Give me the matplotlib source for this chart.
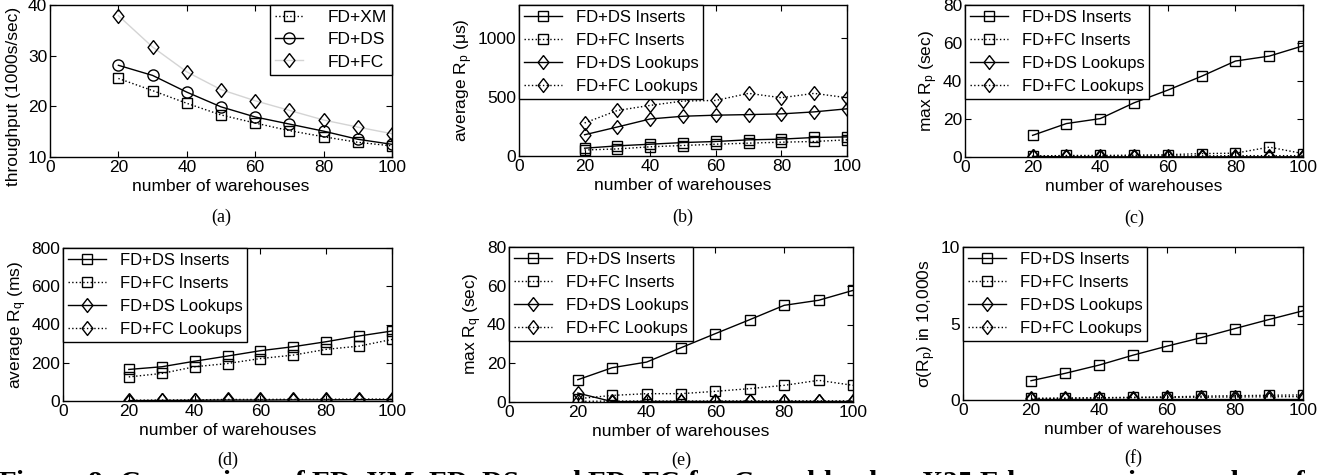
import matplotlib
matplotlib.use("Agg")
import matplotlib.pyplot as plt

plt.rcParams['font.family'] = ['Liberation Sans', 'DejaVu Sans']
plt.rcParams['mathtext.fontset'] = 'custom'
plt.rcParams['mathtext.rm'] = 'Liberation Sans'
plt.rcParams['mathtext.it'] = 'Liberation Sans:italic'
plt.rcParams['mathtext.cal'] = 'Liberation Serif:italic:bold'

# number of warehouses
x = [20, 30, 40, 50, 60, 70, 80, 90, 100]

# (a) throughput (1000s/sec)
tp_xm = [25.5, 23.1, 20.6, 18.3, 16.7, 15.2, 14.0, 12.9, 12.2]
tp_ds = [28.1, 26.1, 22.8, 19.9, 17.9, 16.5, 15.1, 13.5, 12.5]
tp_fc = [37.9, 31.7, 26.8, 23.3, 21.1, 19.2, 17.3, 15.9, 14.6]

# (b) average Rp (us)
avg_rp_ds_ins = [66, 86, 100, 114, 123, 137, 143, 157, 162]
avg_rp_fc_ins = [51, 60, 78, 89, 100, 109, 117, 123, 137]
avg_rp_ds_look = [180, 246, 314, 337, 346, 351, 357, 374, 400]
avg_rp_fc_look = [280, 386, 429, 466, 471, 531, 494, 531, 494]

# (c) max Rp (sec)
max_rp_ds_ins = [11.4, 17.6, 20.2, 28.5, 35.2, 42.5, 50.5, 53.1, 58.5]
max_rp_fc_ins = [0.5, 0.8, 0.8, 1.0, 1.2, 1.8, 2.0, 5.2, 1.8]
max_rp_ds_look = [0.3, 0.1, 0.1, 0.1, 0.1, 0.1, 0.1, 0.1, 0.1]
max_rp_fc_look = [0.4, 0.5, 0.5, 0.6, 0.6, 0.6, 0.7, 0.7, 0.7]

# (d) average Rq (ms)
avg_rq_ds_ins = [165, 179, 208, 235, 263, 284, 310, 340, 366]
avg_rq_fc_ins = [126, 144, 179, 196, 222, 240, 270, 287, 322]
avg_rq_ds_look = [2, 3, 4, 5, 5, 6, 6, 7, 7]
avg_rq_fc_look = [4, 5, 6, 8, 8, 9, 9, 10, 10]

# (e) max Rq (sec)
max_rq_ds_ins = [11.5, 17.7, 20.6, 28.0, 35.3, 42.5, 49.9, 52.5, 57.6]
max_rq_fc_ins = [1.7, 3.4, 4.3, 4.3, 5.5, 6.9, 8.6, 11.2, 8.6]
max_rq_ds_look = [4.6, 0.2, 0.3, 0.3, 0.3, 0.3, 0.3, 0.3, 0.3]
max_rq_fc_look = [0.3, 0.5, 0.5, 0.5, 0.5, 0.6, 0.6, 0.6, 0.6]

# (f) sigma(Rp) in 10,000s
sd_rp_ds_ins = [1.26, 1.74, 2.28, 2.93, 3.52, 4.07, 4.67, 5.26, 5.83]
sd_rp_fc_ins = [0.10, 0.12, 0.15, 0.18, 0.20, 0.25, 0.28, 0.31, 0.33]
sd_rp_ds_look = [0.05, 0.05, 0.05, 0.05, 0.05, 0.05, 0.05, 0.05, 0.05]
sd_rp_fc_look = [0.10, 0.12, 0.13, 0.15, 0.17, 0.18, 0.20, 0.21, 0.22]

W, H = 1337, 475
DIAMOND = [(0, 1), (0.78, 0), (0, -1), (-0.78, 0), (0, 1)]
LABELS4 = ['FD+DS Inserts', 'FD+FC Inserts', 'FD+DS Lookups', 'FD+FC Lookups']

fig = plt.figure(figsize=(W / 100, H / 100), dpi=100)


def make_axes(left, top, right, bottom):
    ax = fig.add_axes([left / W, 1 - bottom / H, (right - left) / W, (bottom - top) / H])
    ax.tick_params(direction='in', top=True, right=True, length=4, width=0.8,
                   labelsize=12.5, pad=2)
    for s in ax.spines.values():
        s.set_linewidth(1.0)
    ax.set_xlim(0, 100)
    ax.set_xticks([0, 20, 40, 60, 80, 100])
    ax.set_xlabel('number of warehouses', fontsize=12.5, labelpad=3)
    return ax


def line(ax, y, ls, marker, label, color='black', ms=7):
    ax.plot(x, y, linestyle=ls, color=color, lw=1.0, marker=marker, ms=ms,
            mfc='none', mec='black', mew=1.0, label=label)


def four(ax, ds_ins, fc_ins, ds_look, fc_look):
    line(ax, ds_ins, '-', 's', LABELS4[0])
    line(ax, fc_ins, ':', 's', LABELS4[1])
    line(ax, ds_look, '-', DIAMOND, LABELS4[2], ms=10)
    line(ax, fc_look, ':', DIAMOND, LABELS4[3], ms=10)
    ax.legend(loc='upper left', borderaxespad=0, fancybox=False, framealpha=1,
              edgecolor='black', fontsize=12, handlelength=2.3, handletextpad=0.8,
              labelspacing=0.48, borderpad=0.3)


def sub(ax, txt, ypix):
    p = ax.get_position()
    fig.text((p.x0 + p.x1) / 2, 1 - ypix / H, txt, ha='center', va='center',
             fontsize=13, family='Liberation Serif')


# (a)
ax = make_axes(50, 5, 392, 157)
line(ax, tp_xm, ':', 's', 'FD+XM')
line(ax, tp_ds, '-', 'o', 'FD+DS', ms=8)
line(ax, tp_fc, '-', DIAMOND, 'FD+FC', color='#d4d4d4', ms=10)
ax.set_ylim(10, 40)
ax.set_yticks([10, 20, 30, 40])
ax.set_ylabel('throughput (1000s/sec)', fontsize=12.5)
ax.yaxis.set_label_coords(-0.085, 0.40)
ax.legend(loc='upper right', borderaxespad=0, fancybox=False, framealpha=1,
          edgecolor='black', fontsize=12.5, handlelength=1.6, handletextpad=1.4,
          labelspacing=0.4, borderpad=0.3)
sub(ax, '(a)', 217)

# (b)
ax = make_axes(519, 5, 847, 156)
four(ax, avg_rp_ds_ins, avg_rp_fc_ins, avg_rp_ds_look, avg_rp_fc_look)
ax.set_ylim(0, 1280)
ax.set_yticks([0, 500, 1000])
ax.set_ylabel(r'average $\mathrm{R_p}$ (μs)', fontsize=12.5, labelpad=2)
sub(ax, '(b)', 217)

# (c)
ax = make_axes(965, 5, 1303, 157)
four(ax, max_rp_ds_ins, max_rp_fc_ins, max_rp_ds_look, max_rp_fc_look)
ax.set_ylim(0, 80)
ax.set_yticks([0, 20, 40, 60, 80])
ax.set_ylabel(r'max $\mathrm{R_p}$ (sec)', fontsize=12.5, labelpad=2)
sub(ax, '(c)', 218)

# (d)
ax = make_axes(63, 248, 392, 401)
four(ax, avg_rq_ds_ins, avg_rq_fc_ins, avg_rq_ds_look, avg_rq_fc_look)
ax.set_ylim(0, 800)
ax.set_yticks([0, 200, 400, 600, 800])
ax.set_ylabel(r'average $\mathrm{R_q}$ (ms)', fontsize=12.5, labelpad=2)
sub(ax, '(d)', 460)

# (e)
ax = make_axes(509, 247, 853, 402)
four(ax, max_rq_ds_ins, max_rq_fc_ins, max_rq_ds_look, max_rq_fc_look)
ax.set_ylim(0, 80)
ax.set_yticks([0, 20, 40, 60, 80])
ax.set_ylabel(r'max $\mathrm{R_q}$ (sec)', fontsize=12.5, labelpad=2)
sub(ax, '(e)', 460)

# (f)
ax = make_axes(963, 247, 1303, 400)
four(ax, sd_rp_ds_ins, sd_rp_fc_ins, sd_rp_ds_look, sd_rp_fc_look)
ax.set_ylim(0, 10)
ax.set_yticks([0, 5, 10])
ax.set_ylabel(r'σ($\mathrm{R_p}$) in 10,000s', fontsize=12.5, labelpad=2)
sub(ax, '(f)', 458)

# caption, cut by the bottom edge as in the source page
fig.text(-2 / W, 1 - 468 / H,
         r'Figure 8: Comparison of FD–XM, FD–DS, and FD–FC for $\mathcal{C}$ workload on X25 Edges: '
         'varying number of warehouses, inter-arrival time of',
         ha='left', va='top', fontsize=21, family='Liberation Serif', weight='bold')

fig.savefig('out.png', dpi=100)
